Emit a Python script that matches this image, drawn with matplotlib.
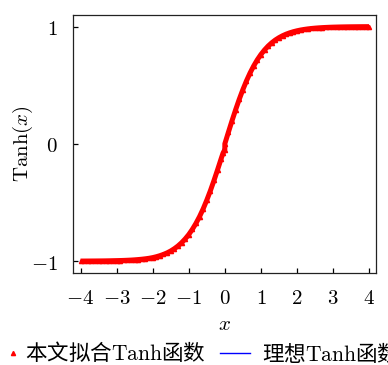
import numpy as np
import matplotlib.pyplot as plt

plt.rcParams['mathtext.fontset'] = 'cm'
plt.rcParams['font.family'] = ['Noto Sans CJK SC', 'DejaVu Sans']

# sample points on [-4, 4], step 0.1
x_grid = np.round(np.linspace(-4, 4, 81), 2)

# ideal tanh values on the grid
ideal_y = [
    -0.9993, -0.9992, -0.9990, -0.9988, -0.9985, -0.9982, -0.9978, -0.9973,
    -0.9967, -0.9959, -0.9951, -0.9940, -0.9926, -0.9910, -0.9890, -0.9866,
    -0.9837, -0.9801, -0.9757, -0.9705, -0.9640, -0.9562, -0.9468, -0.9354,
    -0.9217, -0.9051, -0.8854, -0.8617, -0.8337, -0.8005, -0.7616, -0.7163,
    -0.6640, -0.6044, -0.5370, -0.4621, -0.3799, -0.2913, -0.1974, -0.0997,
    0.0000,
    0.0997, 0.1974, 0.2913, 0.3799, 0.4621, 0.5370, 0.6044, 0.6640,
    0.7163, 0.7616, 0.8005, 0.8337, 0.8617, 0.8854, 0.9051, 0.9217,
    0.9354, 0.9468, 0.9562, 0.9640, 0.9705, 0.9757, 0.9801, 0.9837,
    0.9866, 0.9890, 0.9910, 0.9926, 0.9940, 0.9951, 0.9959, 0.9967,
    0.9973, 0.9978, 0.9982, 0.9985, 0.9988, 0.9990, 0.9992, 0.9993,
]

# fitted values on the same grid
fit_y = [
    -0.9993, -0.9992, -0.9990, -0.9988, -0.9986, -0.9983, -0.9980, -0.9976,
    -0.9970, -0.9963, -0.9956, -0.9948, -0.9938, -0.9925, -0.9910, -0.9890,
    -0.9865, -0.9836, -0.9800, -0.9757, -0.9700, -0.9625, -0.9535, -0.9425,
    -0.9295, -0.9135, -0.8940, -0.8710, -0.8435, -0.8110, -0.7736, -0.7290,
    -0.6780, -0.6200, -0.5540, -0.4800, -0.3995, -0.3120, -0.2200, -0.1250,
    0.0000,
    0.0997, 0.1974, 0.2913, 0.3799, 0.4621, 0.5370, 0.6044, 0.6640,
    0.7163, 0.7616, 0.8005, 0.8337, 0.8617, 0.8854, 0.9051, 0.9217,
    0.9354, 0.9468, 0.9562, 0.9640, 0.9705, 0.9757, 0.9801, 0.9837,
    0.9866, 0.9890, 0.9910, 0.9926, 0.9940, 0.9951, 0.9959, 0.9967,
    0.9973, 0.9978, 0.9982, 0.9985, 0.9988, 0.9990, 0.9992, 0.9993,
]

# extra fitted points just left of zero (jump at x = 0)
jump_x = [-0.05, 0.0]
jump_y = [-0.0790, -0.0500]

x_ticks = [-4, -3, -2, -1, 0, 1, 2, 3, 4]
y_ticks = [-1, 0, 1]

xg = np.array(x_grid)
fy = np.array(fit_y)
neg = xg < 0
x_fit = np.concatenate([xg[neg], jump_x, xg[~neg]])
y_fit = np.concatenate([fy[neg], jump_y, fy[~neg]])

fig = plt.figure(figsize=(3.88, 3.65), dpi=100)
ax = fig.add_axes([0.188, 0.2534, 0.781, 0.7066])

ax.plot(x_grid, ideal_y, color='#0000ff', lw=1.0, zorder=2)
ax.plot(x_fit, y_fit, color='#ff0000', lw=3.6, solid_capstyle='butt', zorder=3)
ax.plot(x_fit, y_fit, ls='none', marker='^', ms=3, color='#ff0000', zorder=4)

ax.set_xlim(-4.21, 4.19)
ax.set_ylim(-1.097, 1.102)
ax.set_xticks(x_ticks)
ax.set_xticklabels(['$%d$' % t for t in x_ticks])
ax.set_yticks(y_ticks)
ax.set_yticklabels(['$%d$' % t for t in y_ticks])
ax.tick_params(direction='in', length=3.5, width=0.9, labelsize=15,
               top=False, right=False)
ax.tick_params(axis='x', pad=10.5)
ax.tick_params(axis='y', pad=11)
for s in ax.spines.values():
    s.set_linewidth(0.9)
    s.set_color('#222222')

ax.set_xlabel('$x$', fontsize=15, labelpad=3)
ax.set_ylabel(r'$\mathrm{Tanh}(x)$', fontsize=15, labelpad=-3)

# two legend entries placed side by side under the axes
h1, = ax.plot([], [], ls='none', marker='^', ms=3, color='#ff0000')
h2, = ax.plot([], [], color='#0000ff', lw=1.0)
leg1 = fig.legend([h1], [r'本文拟合$\mathrm{Tanh}$函数'],
                  loc='center left', bbox_to_anchor=(0.0206, 0.032),
                  frameon=False, fontsize=15.5, handlelength=0.46,
                  handletextpad=0.33, borderpad=0, borderaxespad=0)
leg2 = fig.legend([h2], [r'理想$\mathrm{Tanh}$函数'],
                  loc='center left', bbox_to_anchor=(0.567, 0.032),
                  frameon=False, fontsize=15.5, handlelength=1.39,
                  handletextpad=0.56, borderpad=0, borderaxespad=0)

fig.savefig('out.png', dpi=100)
